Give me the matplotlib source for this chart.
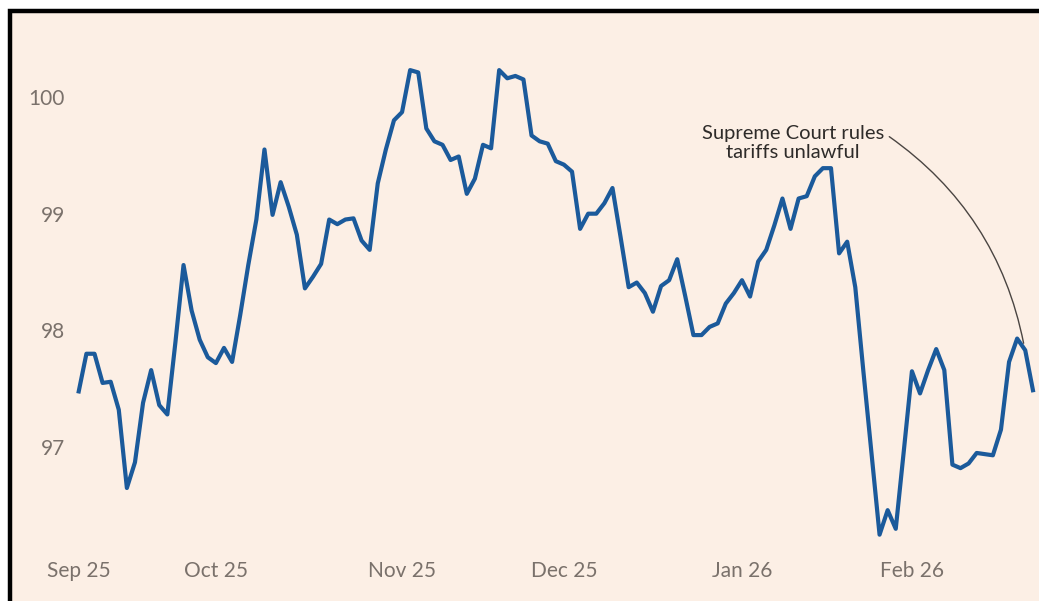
import matplotlib
matplotlib.use("Agg")
import matplotlib.pyplot as plt
from matplotlib.patches import Rectangle
import numpy as np

plt.rcParams["font.family"] = ["Lato", "DejaVu Sans"]

# ---------------------------------------------------------------------------
# data: dollar index, one value per trading session
# ---------------------------------------------------------------------------
dxy = [
    97.46, 97.80, 97.80, 97.55, 97.56, 97.32, 96.65, 96.87, 97.38, 97.66,
    97.36, 97.28, 97.90, 98.56, 98.17, 97.92, 97.77, 97.72, 97.85, 97.73,
    98.13, 98.56, 98.95, 99.55, 98.99, 99.27, 99.06, 98.82, 98.36, 98.46,
    98.57, 98.95, 98.91, 98.95, 98.96, 98.77, 98.69, 99.26, 99.55, 99.80,
    99.87, 100.23, 100.21, 99.73, 99.62, 99.59, 99.46, 99.49, 99.17, 99.30,
    99.59, 99.56, 100.23, 100.16, 100.18, 100.15, 99.67, 99.62, 99.60, 99.45,
    99.42, 99.36, 98.87, 99.00, 99.00, 99.09, 99.22, 98.80, 98.37, 98.41,
    98.32, 98.16, 98.38, 98.43, 98.61, 98.29, 97.96, 97.96, 98.03, 98.06,
    98.23, 98.32, 98.43, 98.29, 98.59, 98.69, 98.90, 99.13, 98.87, 99.13,
    99.15, 99.32, 99.39, 99.39, 98.66, 98.76, 98.37, 97.65, 96.95, 96.25,
    96.46, 96.30, 96.97, 97.65, 97.46, 97.66, 97.84, 97.66, 96.85, 96.82,
    96.86, 96.95, 96.94, 96.93, 97.15, 97.73, 97.93, 97.83, 97.47,
]

month_labels = ["Sep 25", "Oct 25", "Nov 25", "Dec 25", "Jan 26", "Feb 26"]
month_start = [0, 17, 40, 60, 82, 103]  # session index of each label
y_ticks = [97, 98, 99, 100]

note = "Supreme Court rules\ntariffs unlawful"
note_session = 116.8  # where the connector lands
note_level = 97.89

# ---------------------------------------------------------------------------
# style
# ---------------------------------------------------------------------------
W, H = 1039, 601
BG = "#fcefe5"
BLUE = "#1b5a9b"
GREY = "#7a716b"
INK = "#2e2b29"

fig = plt.figure(figsize=(W / 100, H / 100), dpi=100, facecolor="white")

# pink panel with black frame on top/left (right/bottom cropped off)
frame = Rectangle(
    (9.5 / W, -0.1), 1.2, 1 - 10.5 / H + 0.1,
    transform=fig.transFigure, facecolor=BG, edgecolor="black",
    linewidth=3.2, clip_on=False, zorder=-5,
)
fig.patches.append(frame)

ax = fig.add_axes([72 / W, 1 - 560 / H, (W - 72) / W, 520 / H])
ax.set_facecolor("none")
ax.set_zorder(1)

x = np.arange(len(dxy))
ax.plot(x, dxy, color=BLUE, linewidth=3.0,
        solid_joinstyle="round", solid_capstyle="butt")

ax.set_xlim(-0.78, 118.7)
ax.set_ylim(96.033, 100.488)

ax.set_xticks(month_start)
ax.set_xticklabels(month_labels)
ax.set_yticks(y_ticks)
ax.set_yticklabels([str(v) for v in y_ticks])
ax.tick_params(axis="x", length=0, pad=1, labelsize=15, labelcolor=GREY)
ax.tick_params(axis="y", length=0, pad=5, labelsize=15, labelcolor=GREY)
for s in ax.spines.values():
    s.set_visible(False)

# annotation
ax.text(88.3, 99.606, note, ha="center", va="center", fontsize=14.5,
        color=INK, linespacing=1.15, multialignment="center")
ax.annotate(
    "", xy=(note_session, note_level), xytext=(100.2, 99.66),
    arrowprops=dict(arrowstyle="-", color="#4a4542", linewidth=1.0,
                    connectionstyle="arc3,rad=-0.2",
                    shrinkA=0, shrinkB=0),
)

fig.savefig("out.png", dpi=100, facecolor=fig.get_facecolor())
